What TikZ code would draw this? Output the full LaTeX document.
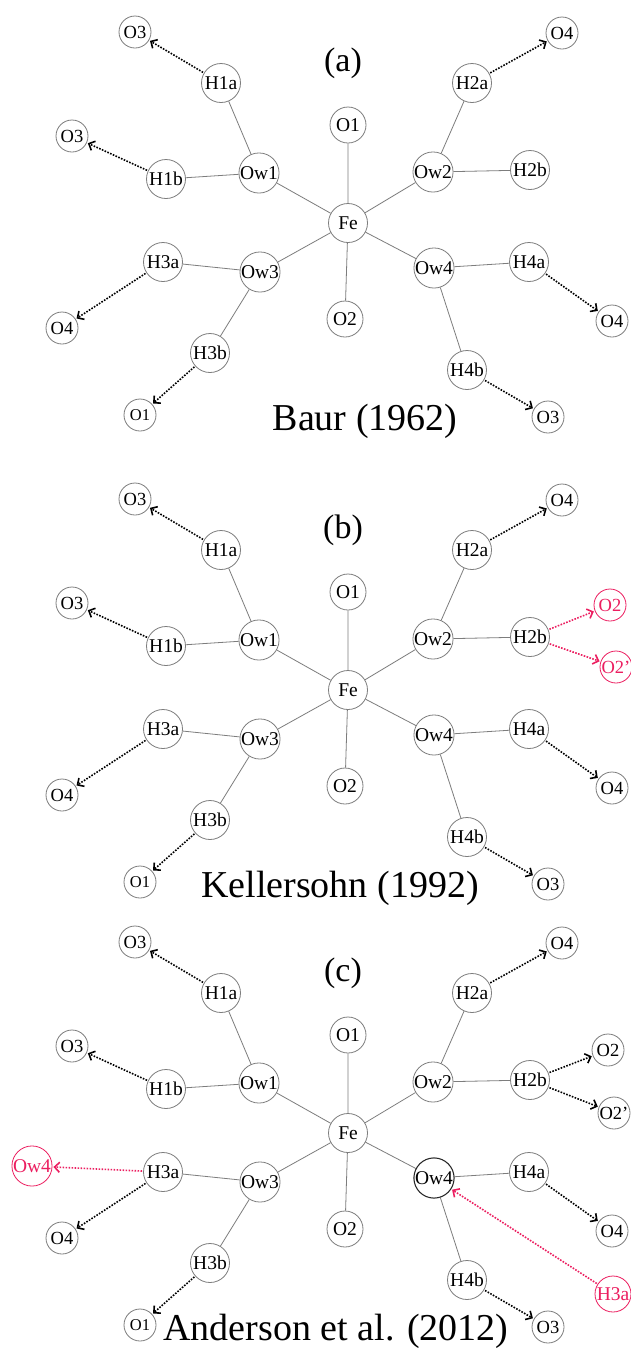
\documentclass[tikz,border=0pt]{standalone}
\usepackage{fontspec}
\setmainfont{Liberation Serif}
\usetikzlibrary{arrows.meta}
\definecolor{bondgray}{RGB}{125,125,125}
\definecolor{hbred}{RGB}{236,30,96}
\tikzset{
  atom/.style={circle, draw=bondgray, line width=0.8pt, minimum size=39pt,
    inner sep=0pt, fill=white, font=\fontsize{19.5}{19.5}\selectfont},
  ligand/.style={atom, minimum size=36pt},
  acceptor/.style={atom, minimum size=32pt, font=\fontsize{18.5}{18.5}\selectfont},
  redatom/.style={draw=hbred, text=hbred},
  bond/.style={draw=bondgray, line width=0.8pt},
  hbond/.style={line width=1.6pt, dash pattern=on 1.6pt off 1.4pt,
    -{Straight Barb[length=5pt,width=10pt]}, shorten >=1pt, shorten <=1pt},
  caption/.style={anchor=base, font=\fontsize{38}{38}\selectfont},
  plabel/.style={font=\fontsize{34}{34}\selectfont}
}
% one coordination polyhedron of Fe with its water molecules and H bonds
\newcommand\fepanel[5]{% #1 prefix, #2 vertical offset, #3 panel label, #4 caption, #5 caption x
  \begin{scope}[shift={(0,#2)}]
    \node[plabel] (#1lab) at (343,63) {#3};
    \node[atom] (#1Fe)  at (348,223) {Fe};
    \node[ligand] (#1O1) at (348,125) {O1};
    \node[ligand] (#1O2) at (345,319) {O2};
    \node[atom] (#1Ow1) at (259,173) {Ow1};
    \node[atom] (#1Ow2) at (433,172) {Ow2};
    \node[atom] (#1Ow3) at (260,272) {Ow3};
    \node[atom] (#1Ow4) at (434,268) {Ow4};
    \node[atom] (#1H1a) at (221,83)  {H1a};
    \node[atom] (#1H1b) at (166,179) {H1b};
    \node[atom] (#1H2a) at (472,83)  {H2a};
    \node[atom] (#1H2b) at (530,170) {H2b};
    \node[atom] (#1H3a) at (163,262) {H3a};
    \node[atom] (#1H3b) at (210,353) {H3b};
    \node[atom] (#1H4a) at (529,262) {H4a};
    \node[atom] (#1H4b) at (467,370) {H4b};
    \node[acceptor] (#1A1a) at (135,32)  {O3};
    \node[acceptor] (#1A1b) at (72,136)  {O3};
    \node[acceptor] (#1A2a) at (562,33)  {O4};
    \node[acceptor] (#1A3a) at (62,328)  {O4};
    \node[acceptor, font=\fontsize{16.5}{16.5}\selectfont] (#1A3b) at (140,415) {O1};
    \node[acceptor] (#1A4a) at (612,321) {O4};
    \node[acceptor] (#1A4b) at (548,417) {O3};
    \node[caption] (#1cap) at (#5,430) {#4};
    \path[bond] (#1Fe) -- (#1O1) (#1Fe) -- (#1O2)
      (#1Fe) -- (#1Ow1) (#1Fe) -- (#1Ow2) (#1Fe) -- (#1Ow3) (#1Fe) -- (#1Ow4)
      (#1Ow1) -- (#1H1a) (#1Ow1) -- (#1H1b) (#1Ow2) -- (#1H2a) (#1Ow2) -- (#1H2b)
      (#1Ow3) -- (#1H3a) (#1Ow3) -- (#1H3b) (#1Ow4) -- (#1H4a) (#1Ow4) -- (#1H4b);
    \draw[hbond] (#1H1a) -- (#1A1a);
    \draw[hbond] (#1H1b) -- (#1A1b);
    \draw[hbond] (#1H2a) -- (#1A2a);
    \draw[hbond] (#1H3a) -- (#1A3a);
    \draw[hbond] (#1H3b) -- (#1A3b);
    \draw[hbond] (#1H4a) -- (#1A4a);
    \draw[hbond] (#1H4b) -- (#1A4b);
  \end{scope}}

\begin{document}
\begin{tikzpicture}[x=1pt, y=-1pt]
  \useasboundingbox (0,0) rectangle (631,1353);
  \fill[white] (0,0) rectangle (631,1353);

  % (a)
  \fepanel{a}{0}{(a)}{Baur (1962)}{365}

  % (b): bifurcated H2b bond
  \fepanel{b}{467}{(b)}{Kellersohn (1992)}{340}
  \node[acceptor, redatom] (bO2r)  at (610,605) {O2};
  \node[acceptor, redatom] (bO2pr) at (616,667) {O2'};
  \draw[hbond, hbred] (bH2b) -- (bO2r);
  \draw[hbond, hbred] (bH2b) -- (bO2pr);

  % (c): bifurcated H2b bond and H3a ... Ow4 contact
  \fepanel{c}{910}{(c)}{Anderson et al. (2012)}{336}
  \node[acceptor] (cO2)  at (608,1050) {O2};
  \node[acceptor] (cO2p) at (614,1113) {O2'};
  \draw[hbond] (cH2b) -- (cO2);
  \draw[hbond] (cH2b) -- (cO2p);
  \node[atom, draw=black!85, line width=1pt] (cOw4d) at (cOw4) {Ow4};
  \node[atom, redatom] (cOw4r) at (32,1166) {Ow4};
  \node[atom, redatom, minimum size=36pt] (cH3ar) at (613,1294) {H3a};
  \draw[hbond, hbred] (cH3a) -- (cOw4r);
  \draw[hbond, hbred] (cH3ar) -- (cOw4d);
\end{tikzpicture}
\end{document}
